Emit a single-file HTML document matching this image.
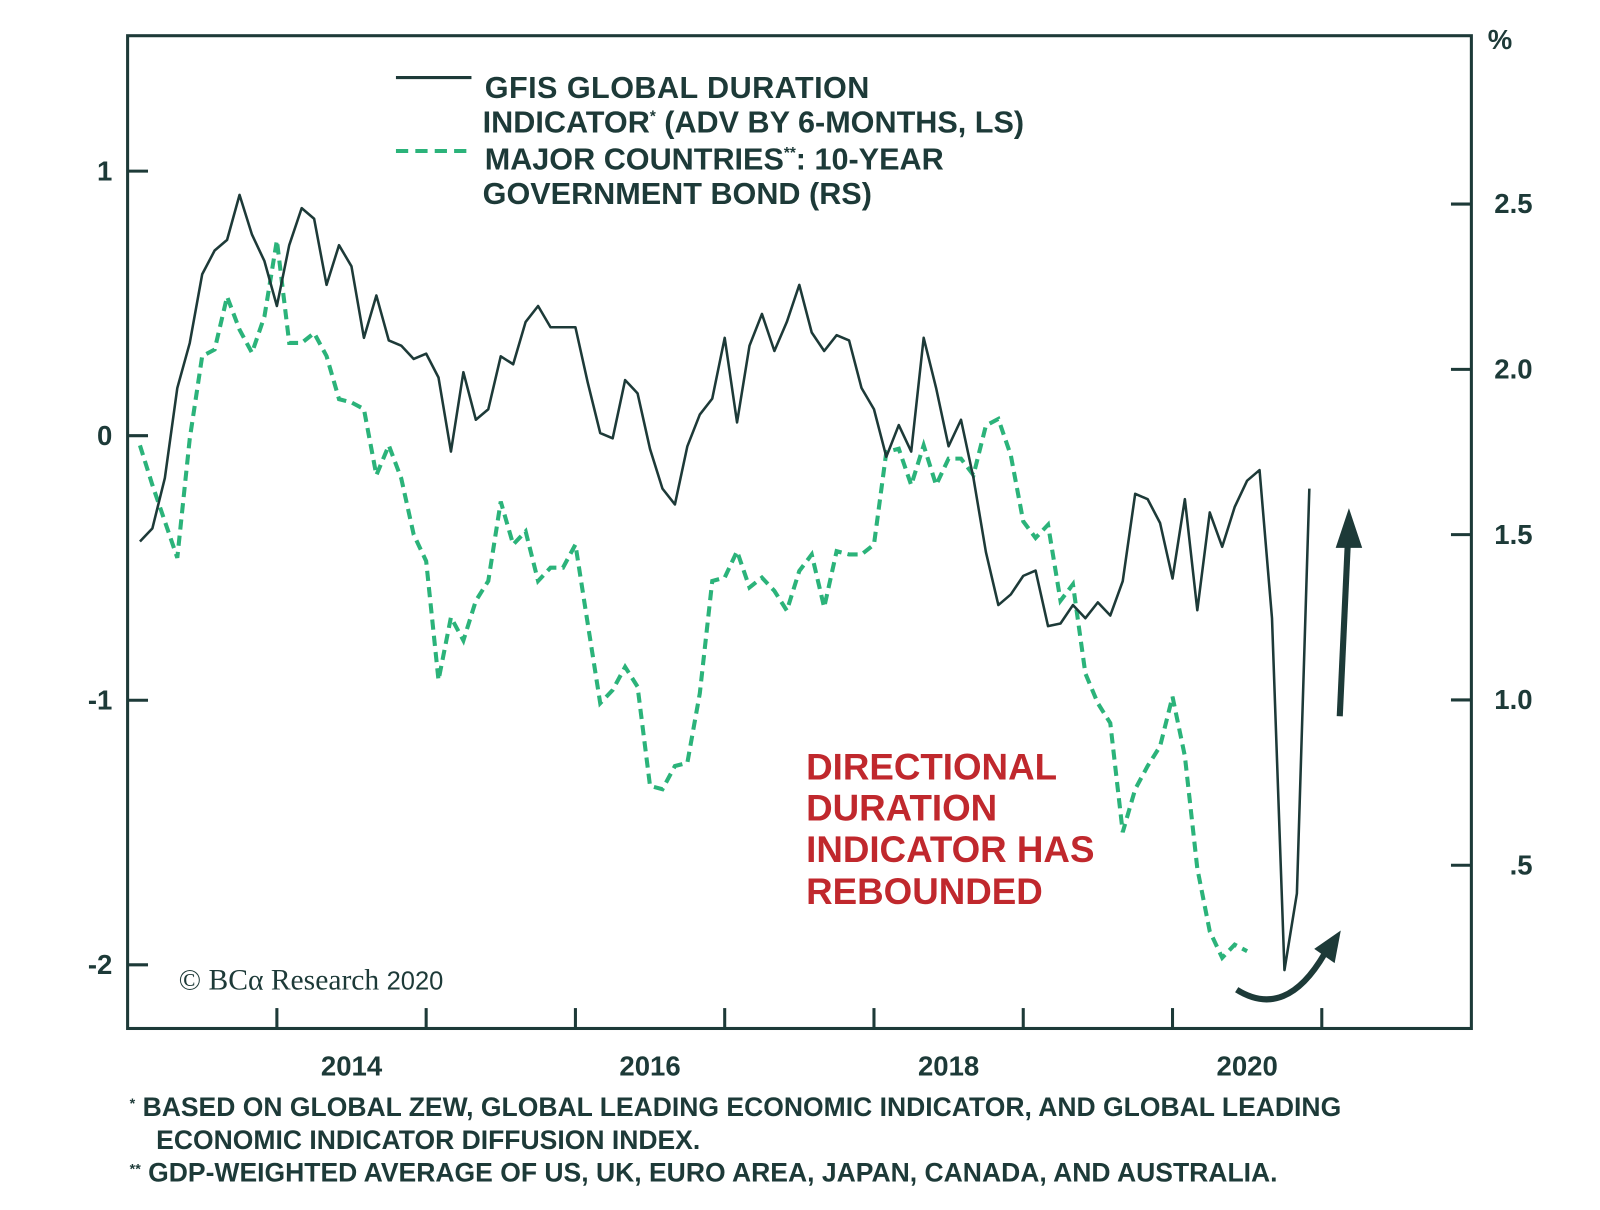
<!DOCTYPE html>
<html><head><meta charset="utf-8"><style>
html,body{margin:0;padding:0;background:#fff;}
svg text{font-family:"Liberation Sans",sans-serif;font-weight:bold;}
</style></head><body>
<svg width="1600" height="1205" viewBox="0 0 1568 1181" xmlns="http://www.w3.org/2000/svg">
<rect x="125" y="35" width="1317" height="973" fill="none" stroke="#1d3a38" stroke-width="3"/>
<g id="axes"></g>
<g id="series"></g>
<g>
<line x1="388" y1="76" x2="462" y2="76" stroke="#1d3a38" stroke-width="3"/>
<text x="475" y="96" font-size="30" fill="#1d3a38" textLength="377">GFIS GLOBAL DURATION</text>
<text x="473" y="130" font-size="30" fill="#1d3a38">INDICATOR<tspan font-size="15" dy="-11">*</tspan><tspan dy="11"> (ADV BY 6-MONTHS, LS)</tspan></text>
<line x1="388" y1="148" x2="462" y2="148" stroke="#2bb37a" stroke-width="4" stroke-dasharray="12,7"/>
<text x="475" y="166" font-size="30" fill="#1d3a38">MAJOR COUNTRIES<tspan font-size="15" dy="-11">**</tspan><tspan dy="11">: 10-YEAR</tspan></text>
<text x="473" y="200" font-size="30" fill="#1d3a38">GOVERNMENT BOND (RS)</text>
</g>
<text x="1458" y="48" font-size="27" fill="#1d3a38">%</text>
<g fill="#c0282d" font-size="36">
<text x="790" y="764">DIRECTIONAL</text>
<text x="790" y="804">DURATION</text>
<text x="790" y="845">INDICATOR HAS</text>
<text x="790" y="886">REBOUNDED</text>
</g>
<text x="175" y="970" font-size="29" fill="#1d3a38" style="font-family:'Liberation Serif',serif;font-weight:normal">© BCα Research <tspan style="font-family:'Liberation Sans',sans-serif" font-size="25">2020</tspan></text>
<g stroke="#1d3a38" fill="#1d3a38">
<line x1="1313" y1="702" x2="1321" y2="530" stroke-width="6"/>
<polygon points="1322,498 1309,537 1335,537" stroke="none"/>
<path d="M1212,970 Q1260,1000 1298,935" fill="none" stroke-width="6"/>
<polygon points="1314,912 1288,930 1308,944" stroke="none"/>
</g>
<g font-size="26" fill="#1d3a38">
<text x="127" y="1094"><tspan font-size="14" dy="-8">*</tspan><tspan dy="8"> BASED ON GLOBAL ZEW, GLOBAL LEADING ECONOMIC INDICATOR, AND GLOBAL LEADING</tspan></text>
<text x="153" y="1126">ECONOMIC INDICATOR DIFFUSION INDEX.</text>
<text x="127" y="1158"><tspan font-size="14" dy="-8">**</tspan><tspan dy="8"> GDP-WEIGHTED AVERAGE OF US, UK, EURO AREA, JAPAN, CANADA, AND AUSTRALIA.</tspan></text>
</g>
</svg>
<script>
const leftTicks=[1,0,-1,-2];
const leftTickLabels=["1","0","-1","-2"];
const rightTicks=[2.5,2.0,1.5,1.0,0.5];
const rightTickLabels=["2.5","2.0","1.5","1.0",".5"];
const yearTicks=[2014,2015,2016,2017,2018,2019,2020,2021];
const yearLabels=[2014,2016,2018,2020];
const startYear=2013.083;
const gfisValues=[-0.40,-0.35,-0.16,0.18,0.35,0.61,0.70,0.74,0.91,0.76,0.66,0.49,0.72,0.86,0.82,0.57,0.72,0.64,0.37,0.53,0.36,0.34,0.29,0.31,0.22,-0.06,0.24,0.06,0.10,0.30,0.27,0.43,0.49,0.41,0.41,0.41,0.20,0.01,-0.01,0.21,0.16,-0.05,-0.20,-0.26,-0.04,0.08,0.14,0.37,0.05,0.34,0.46,0.32,0.43,0.57,0.39,0.32,0.38,0.36,0.18,0.10,-0.08,0.04,-0.06,0.37,0.18,-0.04,0.06,-0.16,-0.44,-0.64,-0.60,-0.53,-0.51,-0.72,-0.71,-0.64,-0.69,-0.63,-0.68,-0.55,-0.22,-0.24,-0.33,-0.54,-0.24,-0.66,-0.29,-0.42,-0.27,-0.17,-0.13,-0.69,-2.02,-1.73,-0.20];
const bondValues=[1.77,1.65,1.54,1.43,1.79,2.04,2.06,2.22,2.12,2.05,2.16,2.39,2.08,2.08,2.11,2.04,1.91,1.90,1.88,1.68,1.77,1.67,1.50,1.42,1.06,1.25,1.18,1.30,1.36,1.60,1.47,1.51,1.36,1.40,1.40,1.47,1.23,0.99,1.03,1.10,1.04,0.74,0.73,0.80,0.81,1.02,1.36,1.37,1.45,1.34,1.37,1.33,1.27,1.39,1.44,1.28,1.45,1.44,1.44,1.47,1.75,1.76,1.65,1.77,1.65,1.73,1.73,1.68,1.83,1.85,1.74,1.54,1.49,1.53,1.30,1.35,1.08,0.99,0.93,0.60,0.73,0.80,0.86,1.01,0.83,0.49,0.30,0.22,0.26,0.24];

const NS="http://www.w3.org/2000/svg";
const xOf=t=>125+(t-2013)*146.3;
const yL=v=>427-v*259.3;
const yR=v=>200-(v-2.5)*324;
const axes=document.getElementById('axes'),series=document.getElementById('series');
function mk(tag,attrs,parent){const e=document.createElementNS(NS,tag);for(const k in attrs)e.setAttribute(k,attrs[k]);parent.appendChild(e);return e;}
leftTicks.forEach((v,i)=>{
  const l=mk('line',{x1:125,x2:145,y1:yL(v),y2:yL(v),stroke:'#1d3a38','stroke-width':3},axes);
  
  
  const t=mk('text',{x:110,y:yL(v)+9,'font-size':27,fill:'#1d3a38','text-anchor':'end'},axes);
  t.textContent=leftTickLabels[i];
  
  
});
rightTicks.forEach((v,i)=>{
  const l=mk('line',{x1:1422,x2:1442,y1:yR(v),y2:yR(v),stroke:'#1d3a38','stroke-width':3},axes);
  
  
  const t=mk('text',{x:1502,y:yR(v)+9,'font-size':27,fill:'#1d3a38','text-anchor':'end'},axes);
  t.textContent=rightTickLabels[i];
  
  
});
yearTicks.forEach(y=>{
  const l=mk('line',{x1:xOf(y),x2:xOf(y),y1:988,y2:1008,stroke:'#1d3a38','stroke-width':3},axes);
  
  
});
yearLabels.forEach(y=>{
  const t=mk('text',{x:xOf(y+0.5),y:1054,'font-size':27,fill:'#1d3a38','text-anchor':'middle'},axes);
  t.textContent=String(y);
  
  
});
const bp=bondValues.map((v,i)=>xOf(startYear+i/12).toFixed(1)+','+yR(v).toFixed(1)).join(' ');
const b=mk('polyline',{points:bp,fill:'none',stroke:'#2bb37a','stroke-width':4,'stroke-dasharray':'10,6'},series);


const gp=gfisValues.map((v,i)=>xOf(startYear+i/12).toFixed(1)+','+yL(v).toFixed(1)).join(' ');
const g=mk('polyline',{points:gp,fill:'none',stroke:'#1d3a38','stroke-width':2.5,'stroke-linejoin':'round'},series);


</script>
</body></html>
